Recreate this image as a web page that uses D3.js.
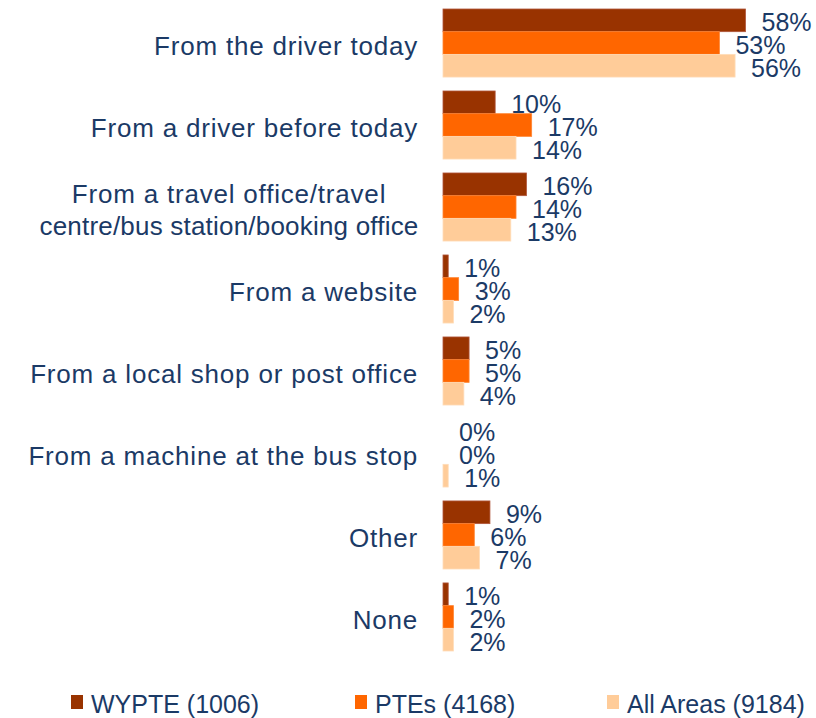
<!DOCTYPE html>
<html lang="en">
<head>
	<meta charset="UTF-8">
	<title>Where tickets were bought</title>
	<script src="https://d3js.org/d3.v7.min.js"></script>
	<style>
		body {
			margin: 0;
			background-color: #ffffff;
		}
		text {
			font-family: "Liberation Sans", Arial, sans-serif;
			fill: #1b3a66;
		}
		.cat {
			font-size: 26px;
			letter-spacing: 0.8px;
		}
		.val {
			font-size: 25px;
		}
		.legend text {
			font-size: 25px;
		}
	</style>
</head>
<body>
<script type="text/javascript">
	var categories = [
		["From the driver today"],
		["From a driver before today"],
		["From a travel office/travel", "centre/bus station/booking office"],
		["From a website"],
		["From a local shop or post office"],
		["From a machine at the bus stop"],
		["Other"],
		["None"]
	];
	var seriesNames = ["WYPTE (1006)", "PTEs (4168)", "All Areas (9184)"];
	var wypte = [58, 10, 16, 1, 5, 0, 9, 1];
	var ptes = [53, 17, 14, 3, 5, 0, 6, 2];
	var allAreas = [56, 14, 13, 2, 4, 1, 7, 2];
	var colours = ["#993300", "#ff6600", "#ffcc99"];
	var borders = ["#b0553a", "#ff8533", "#ffdcb8"];

	var width = 816, height = 718;
	var series = [wypte, ptes, allAreas];

	var svg = d3.select("body").append("svg")
		.attr("width", width)
		.attr("height", height);

	//----Skalen----//
	var idx = d3.range(categories.length);
	var y = d3.scaleBand()
		.domain(idx)
		.range([9, 651])
		.paddingInner(0.17);
	var ySub = d3.scaleBand()
		.domain([0, 1, 2])
		.range([0, y.bandwidth()]);
	var x = d3.scaleLinear()
		.domain([0, 58])
		.range([443, 745.5]);

	//----Gruppen----//
	var groups = svg.selectAll(".group")
		.data(idx)
		.enter().append("g")
		.attr("class", "group")
		.attr("transform", function (i) { return "translate(0," + y(i) + ")"; });

	groups.selectAll("rect")
		.data(function (i) { return series.map(function (s, k) { return {k: k, v: s[i]}; }); })
		.enter().append("rect")
		.attr("x", x(0))
		.attr("y", function (d) { return ySub(d.k); })
		.attr("width", function (d) { return x(d.v) - x(0); })
		.attr("height", ySub.bandwidth())
		.attr("fill", function (d) { return colours[d.k]; })
		.attr("stroke", function (d) { return d.v > 0 ? borders[d.k] : "none"; })
		.attr("stroke-width", 0.8);

	groups.selectAll(".val")
		.data(function (i) { return series.map(function (s, k) { return {k: k, v: s[i]}; }); })
		.enter().append("text")
		.attr("class", "val")
		.attr("x", function (d) { return x(d.v) + 16; })
		.attr("y", function (d) { return ySub(d.k) + ySub.bandwidth() / 2 + 2; })
		.attr("dominant-baseline", "central")
		.text(function (d) { return d.v + "%"; });

	//----Kategorien----//
	groups.append("text")
		.attr("class", "cat")
		.attr("y", y.bandwidth() / 2 + 3)
		.each(function (i) {
			var lines = categories[i];
			var t = d3.select(this);
			var multi = lines.length > 1;
			t.attr("text-anchor", multi ? "middle" : "end");
			lines.forEach(function (line, j) {
				t.append("tspan")
					.attr("x", multi ? 229 : 418)
					.attr("dy", j === 0 ? (-(lines.length - 1) * 16) + "px" : "32px")
					.attr("dominant-baseline", "central")
					.style("letter-spacing", multi && j > 0 ? "0.2px" : null)
					.text(line);
			});
		});

	//----Legende----//
	var legendX = [71, 355, 607];
	var legend = svg.append("g").attr("class", "legend")
		.selectAll("g")
		.data(seriesNames)
		.enter().append("g")
		.attr("transform", function (d, k) { return "translate(" + legendX[k] + ",695)"; });
	legend.append("rect")
		.attr("width", 12)
		.attr("height", 14)
		.attr("fill", function (d, k) { return colours[k]; });
	legend.append("text")
		.attr("x", 20)
		.attr("y", 9)
		.attr("dominant-baseline", "central")
		.text(function (d) { return d; });
</script>
</body>
</html>
